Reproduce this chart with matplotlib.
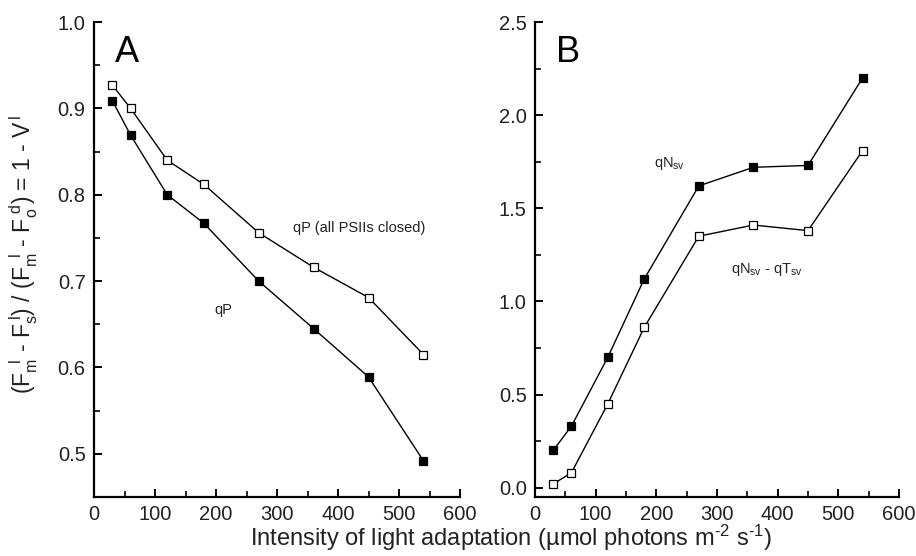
import numpy as np
from matplotlib import pyplot as plt
from matplotlib.ticker import MultipleLocator

plt.rcParams['font.family'] = ['Liberation Sans', 'DejaVu Sans']
plt.rcParams['mathtext.fontset'] = 'custom'
plt.rcParams['mathtext.rm'] = 'Liberation Sans'
plt.rcParams['mathtext.it'] = 'Liberation Sans'
plt.rcParams['mathtext.default'] = 'regular'

light = [30, 60, 120, 180, 270, 360, 450, 540]

# panel A
qp_closed = [0.927, 0.900, 0.840, 0.812, 0.756, 0.716, 0.681, 0.615]
qp = [0.909, 0.869, 0.800, 0.767, 0.700, 0.645, 0.589, 0.492]

# panel B
qn_sv = [0.20, 0.33, 0.70, 1.12, 1.62, 1.72, 1.73, 2.20]
qn_minus_qt = [0.02, 0.08, 0.45, 0.86, 1.35, 1.41, 1.38, 1.81]

fig = plt.figure(figsize=(9.16, 5.56), dpi=100)
axA = fig.add_axes([94/916, 1-497/556, 366/916, 475/556])
axB = fig.add_axes([535/916, 1-497/556, 364/916, 475/556])

mk = dict(marker='s', markersize=6, color='black', linewidth=1.0,
          markeredgewidth=0.9, clip_on=False)

axA.plot(light, qp_closed, markerfacecolor='white', **mk)
axA.plot(light, qp, markerfacecolor='black', **mk)
axB.plot(light, qn_sv, markerfacecolor='black', **mk)
axB.plot(light, qn_minus_qt, markerfacecolor='white', **mk)

axA.set_xlim(0, 600)
axA.set_ylim(0.45, 1.0)
axA.yaxis.set_major_locator(MultipleLocator(0.1))
axA.yaxis.set_minor_locator(MultipleLocator(0.05))
axB.set_xlim(0, 600)
axB.set_ylim(-0.05, 2.5)
axB.yaxis.set_major_locator(MultipleLocator(0.5))
axB.yaxis.set_minor_locator(MultipleLocator(0.25))

for ax in (axA, axB):
    ax.xaxis.set_major_locator(MultipleLocator(100))
    ax.xaxis.set_minor_locator(MultipleLocator(50))
    ax.spines['top'].set_visible(False)
    ax.spines['right'].set_visible(False)
    ax.spines['left'].set_linewidth(1.6)
    ax.spines['bottom'].set_linewidth(1.6)
    ax.tick_params(which='major', direction='in', length=6, width=1.4,
                   labelsize=14.5, pad=6, labelcolor='#222222')
    ax.tick_params(which='minor', direction='in', length=4, width=1.2)
    ax.yaxis.set_major_formatter(plt.FormatStrFormatter('%.1f'))

axA.set_yticks([0.5, 0.6, 0.7, 0.8, 0.9, 1.0])
axB.set_yticks([0.0, 0.5, 1.0, 1.5, 2.0, 2.5])

axA.text(0.058, 0.935, 'A', transform=axA.transAxes, fontsize=26, va='center')
axB.text(0.058, 0.935, 'B', transform=axB.transAxes, fontsize=26, va='center')

axA.text(327, 0.757, 'qP (all PSIIs closed)', fontsize=10.5, color='#222222')
axA.text(198, 0.662, 'qP', fontsize=10.5, color='#222222')
axB.text(196, 1.72, r'qN$_{sv}$', fontsize=10.5, color='#222222')
axB.text(323, 1.15, r'qN$_{sv}$ - qT$_{sv}$', fontsize=10.5, color='#222222')

fig.text(24/916, 1 - 254/556,
         r'$(F_m^{\ \ l}$ - $F_s^{\ l})$ / $(F_m^{\ \ l}$ - $F_o^{\ d})$ = 1 - $V^{\,l}$',
         rotation=90, fontsize=16.5, ha='center', va='center', color='#222222')
fig.text(511/916, 1 - 538/556,
         'Intensity of light adaptation (µmol photons m$^{\u20102}$ s$^{\u20101}$)',
         fontsize=17, ha='center', va='center', color='#222222')

fig.savefig('out.png', dpi=100)
